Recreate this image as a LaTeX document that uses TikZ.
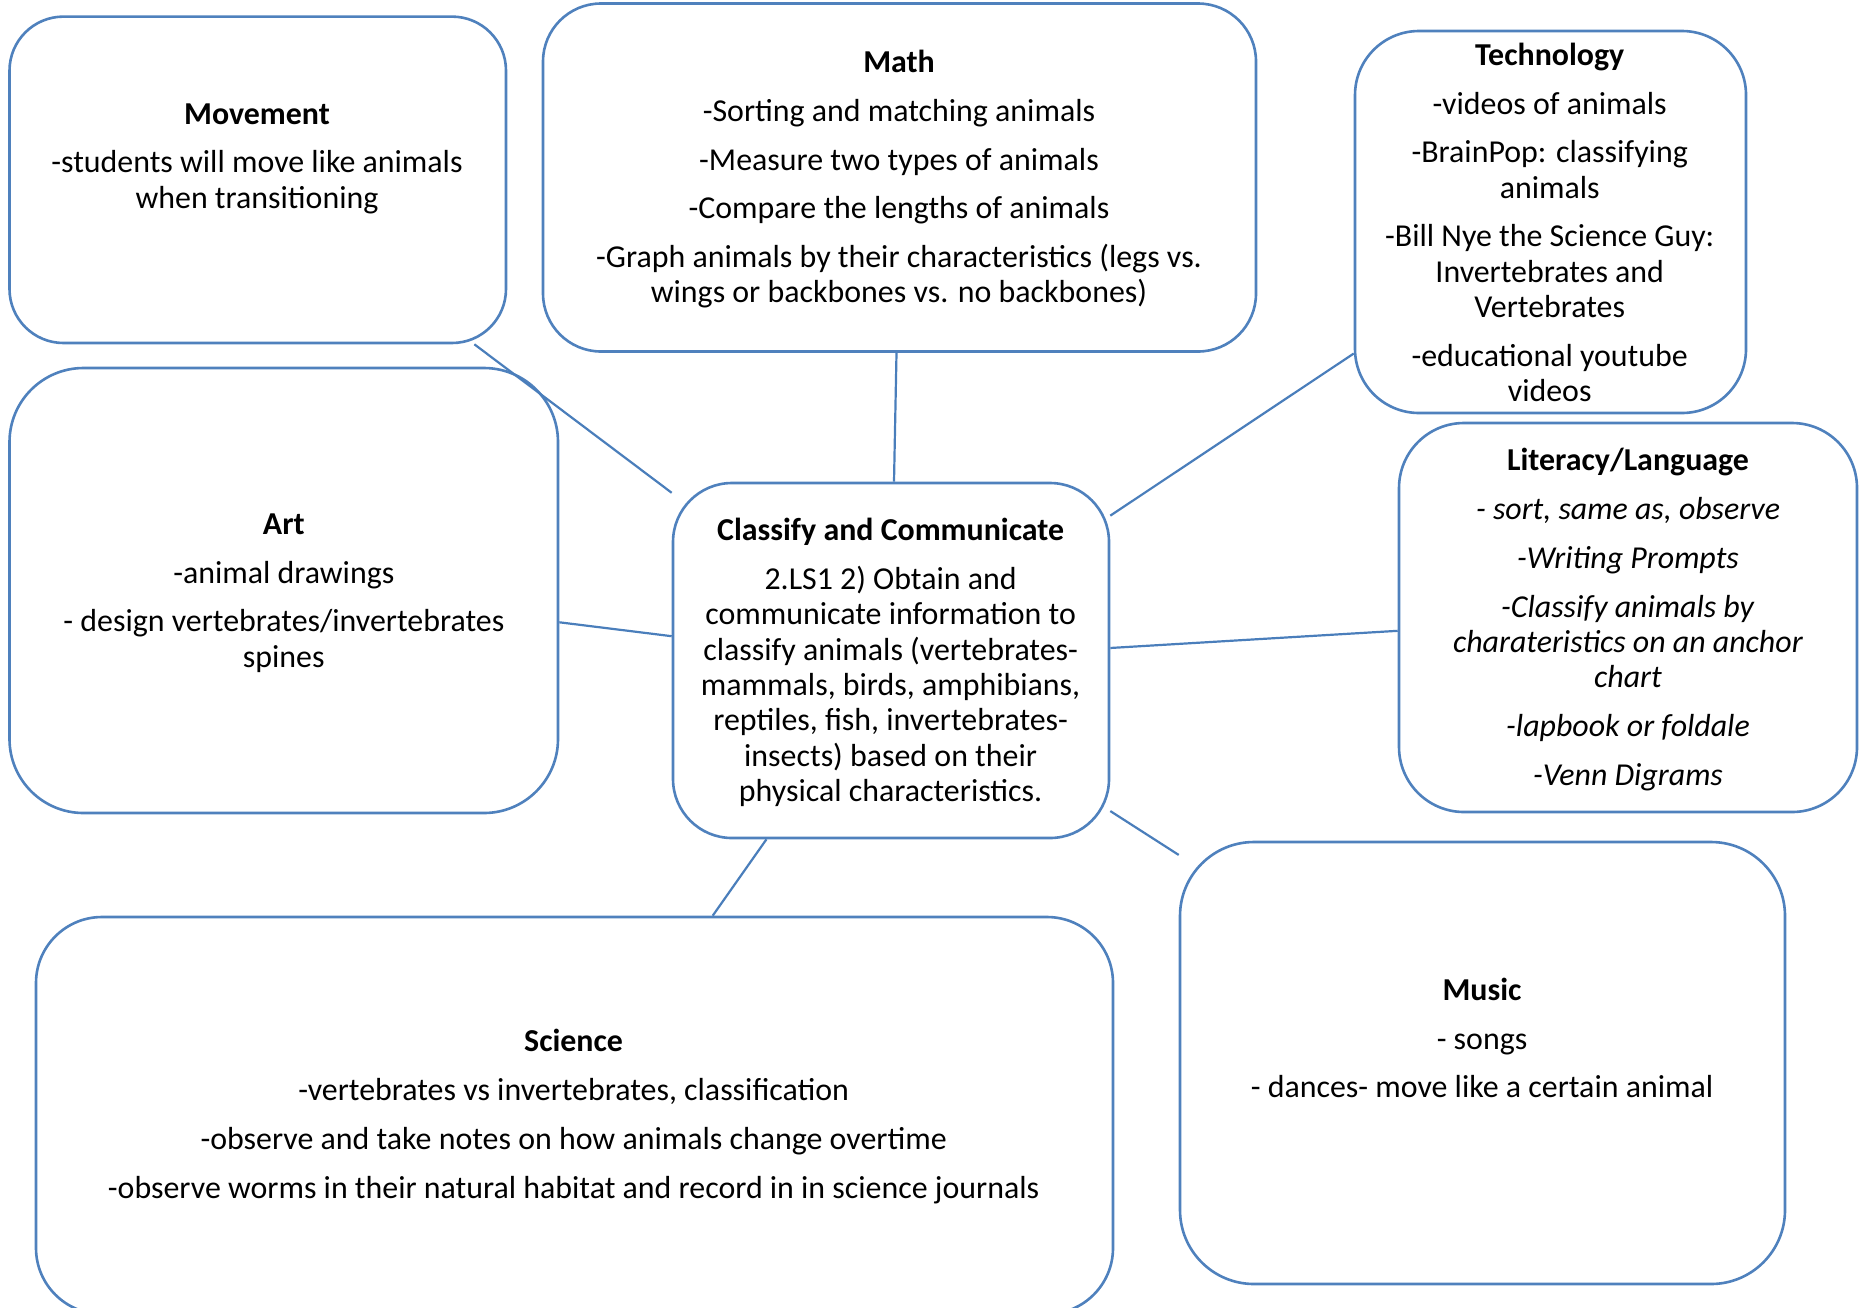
\documentclass[tikz,border=0pt]{standalone}
\usepackage{fontspec}
\setmainfont{Carlito}
\usetikzlibrary{calc}
\definecolor{boxblue}{HTML}{4F81BD}
\definecolor{lineblue}{HTML}{4A7EBB}
\tikzset{
  box/.style={draw=boxblue, line width=2.6pt, fill=white, rounded corners=#1, inner sep=0pt},
  conn/.style={draw=lineblue, line width=2.2pt},
  txt/.style={align=center, font=\fontsize{31.9}{35.3}\selectfont, inner sep=0pt},
}
\newcommand{\gap}{\\[13.4pt]}
\begin{document}
\begin{tikzpicture}[x=1pt,y=-1pt]
\useasboundingbox (0,0) rectangle (1862,1307);
% boxes
\node[box=54pt, minimum width=496.5pt, minimum height=326.4pt] (mov) at (257.75,179.8) {};
\node[box=58pt, minimum width=713pt, minimum height=348pt] (math) at (899.5,177.5) {};
\node[box=64pt, minimum width=391pt, minimum height=382pt] (tech) at (1550.5,222) {};
\node[box=74pt, minimum width=548.5pt, minimum height=445pt] (art) at (283.75,590.5) {};
\node[box=59pt, minimum width=436pt, minimum height=355pt] (ctr) at (891,660.5) {};
\node[box=65pt, minimum width=458pt, minimum height=389pt] (lit) at (1628,617.5) {};
\node[box=66pt, minimum width=1077pt, minimum height=397pt] (sci) at (574.5,1115.5) {};
\node[box=74pt, minimum width=605pt, minimum height=442pt] (mus) at (1482.5,1063) {};
% connectors
\draw[conn] ($(mov.south west)!0.934!(mov.south east)$) -- ($(ctr.north west)!0.031!(ctr.south west)$);
\draw[conn] ($(math.south)+(-3,0)$) -- ($(ctr.north)+(3,0)$);
\draw[conn] ($(tech.north west)!0.842!(tech.south west)$) -- ($(ctr.north east)!0.095!(ctr.south east)$);
\draw[conn] ($(art.north east)!0.571!(art.south east)$) -- ($(ctr.north west)!0.432!(ctr.south west)$);
\draw[conn] ($(lit.north west)!0.534!(lit.south west)$) -- ($(ctr.north east)!0.465!(ctr.south east)$);
\draw[conn] ($(mus.north west)!0.032!(mus.south west)$) -- ($(ctr.north east)!0.921!(ctr.south east)$);
\draw[conn] ($(sci.north west)!0.628!(sci.north east)$) -- ($(ctr.south west)!0.216!(ctr.south east)$);
% texts
\node[txt] (movt) at (257,158.5) {\textbf{Movement}\gap -students will move like animals\\ when transitioning};
\node[txt] (matht) at (899,179.25) {\textbf{Math}\gap -Sorting and matching animals\gap -Measure two types of animals\gap -Compare the lengths of animals\gap -Graph animals by their characteristics (legs vs.\\ wings or backbones vs. no backbones)};
\node[txt] (techt) at (1549.7,222.5) {\textbf{Technology}\gap -videos of animals\gap -BrainPop: classifying\\ animals\gap -Bill Nye the Science Guy:\\ Invertebrates and\\ Vertebrates\gap -educational youtube\\ videos};
\node[txt] (artt) at (283.8,593) {\textbf{Art}\gap -animal drawings\gap - design vertebrates/invertebrates\\ spines};
\node[txt] (ctrt) at (890.6,662.5) {\textbf{Classify and Communicate}\gap 2.LS1 2) Obtain and\\ communicate information to\\ classify animals (vertebrates-\\ mammals, birds, amphibians,\\ reptiles, fish, invertebrates-\\ insects) based on their\\ physical characteristics.};
\node[txt] (litt) at (1628,619.5) {\textbf{Literacy/Language}\gap \textit{- sort, same as, observe}\gap \textit{-Writing Prompts}\gap \textit{-Classify animals by}\\ \textit{charateristics on an anchor}\\ \textit{chart}\gap \textit{-lapbook or foldale}\gap \textit{-Venn Digrams}};
\node[txt] (scit) at (573.6,1116.5) {\textbf{Science}\gap -vertebrates vs invertebrates, classification\gap -observe and take notes on how animals change overtime\gap -observe worms in their natural habitat and record in in science journals};
\node[txt] (must) at (1482,1038) {\textbf{Music}\gap - songs\gap - dances- move like a certain animal};
\end{tikzpicture}
\end{document}
